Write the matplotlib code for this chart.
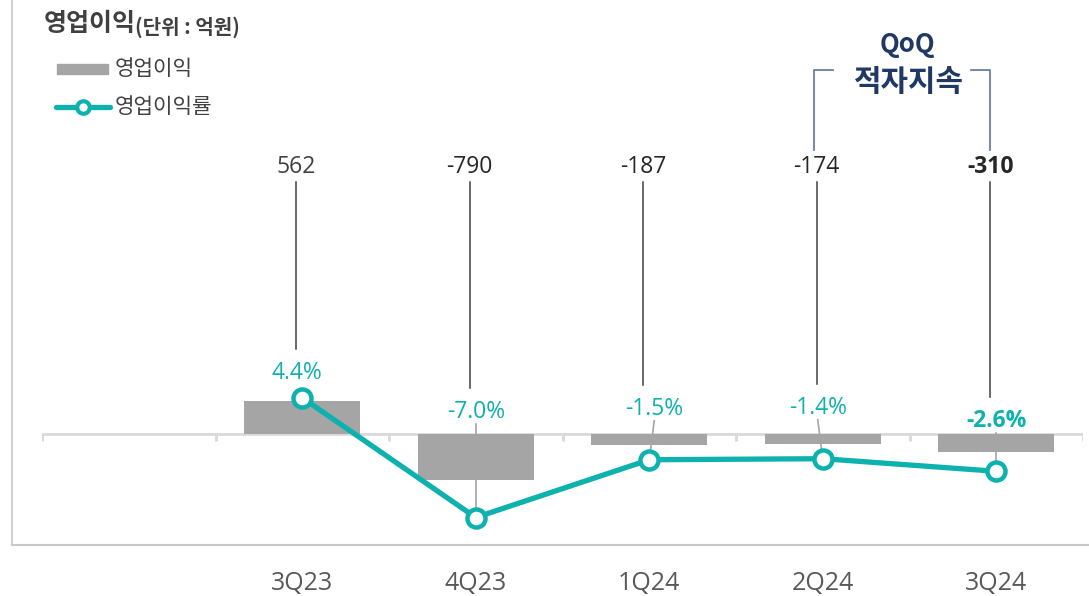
import matplotlib
matplotlib.use("Agg")
import matplotlib.pyplot as plt
from matplotlib.lines import Line2D
from matplotlib.patches import Rectangle

plt.rcParams['font.family'] = ['Noto Sans CJK KR', 'DejaVu Sans']
LATIN = ['Open Sans', 'Noto Sans CJK KR']

# data
quarters = ["3Q23", "4Q23", "1Q24", "2Q24", "3Q24"]
op_income = [562, -790, -187, -174, -310]       # 억원
op_margin = [4.4, -7.0, -1.5, -1.4, -2.6]       # %
value_labels = ["562", "-790", "-187", "-174", "-310"]
margin_labels = ["4.4%", "-7.0%", "-1.5%", "-1.4%", "-2.6%"]

# layout / style
W, H = 1089, 596
GRAY_BAR = "#a5a5a5"
TEAL = "#0db1ad"
NAVY = "#1f3864"
BRACKET = "#6c7f9c"
# offset (px) of each margin label from its marker
margin_label_off = [(-5, 25), (0, 106), (5, 51), (-5, 51), (0, 50)]
bold_last = True

fig = plt.figure(figsize=(W / 100, H / 100), dpi=100)


def fx(px):
    return px / W


def fy(py):
    return 1 - py / H


ax = fig.add_axes([fx(42), fy(545), fx(1041), (545 - 150) / H])
ax2 = ax.twinx()
for a in (ax, ax2):
    a.set_xlim(-0.5, 5.5)
    a.axis("off")
ax.set_ylim(-(545 - 434) * 17.1, (434 - 150) * 17.1)
ax2.set_ylim(-(545 - 444) / 10.5, (444 - 150) / 10.5)

xs = list(range(1, len(quarters) + 1))

# baseline with slot ticks
ax.axhline(0, color="#d9d9d9", lw=2, zorder=1)
ax.vlines([k + 0.5 for k in range(-1, 6)], -7 * 17.1, 0, color="#d9d9d9", lw=2, zorder=1)

# bars
ax.bar(xs, op_income, width=0.67, color=GRAY_BAR, zorder=3)

# line
ax2.plot(xs, op_margin, color=TEAL, lw=3.8, marker="o", ms=13,
         mfc="white", mec=TEAL, mew=3.2, zorder=5, solid_capstyle="round")

fig.canvas.draw()

for i, (x, m) in enumerate(zip(xs, op_margin)):
    last = bold_last and i == len(xs) - 1
    mx, my = ax2.transData.transform((x, m))
    dx, dy = margin_label_off[i]
    lx, ly = mx + dx, my + dy
    # margin label
    fig.text(lx / W, ly / H, margin_labels[i], color=TEAL, fontsize=16.5,
             family=LATIN, ha="center", va="center",
             fontweight="bold" if last else "normal")
    # gray leader from marker to label
    if i > 0:
        ax.add_line(Line2D([lx / W, mx / W], [(ly - 12) / H, my / H],
                           transform=fig.transFigure, color="#a6a6a6", lw=1.2, zorder=2))
    # top value label with dark leader
    tx = mx - 6
    fig.text(tx / W, fy(167), value_labels[i], color="#262626" if i else "#404040",
             fontsize=16.5, family=LATIN, ha="center", va="center",
             fontweight="bold" if last else "normal")
    fig.add_artist(Line2D([tx / W, tx / W], [fy(182), (ly + 24) / H],
                          transform=fig.transFigure, color="#404040", lw=1.1))
    # category label
    fig.text(mx / W, fy(584), quarters[i], color="#595959", fontsize=18,
             family=LATIN, ha="center", va="center")

# frame lines
fig.add_artist(Line2D([fx(12), fx(12)], [fy(0), fy(545)], color="#d0d0d0", lw=1.5))
fig.add_artist(Line2D([fx(12), fx(1089)], [fy(545), fy(545)], color="#c8c8c8", lw=1.5))

# title
fig.text(fx(44), fy(24), "영업이익", fontsize=18, fontweight="bold",
         color="#404040", va="center", ha="left")
fig.text(fx(135), fy(27), "(단위 : 억원)", fontsize=14.5, fontweight="bold",
         color="#404040", va="center", ha="left")

# legend
fig.add_artist(Rectangle((fx(57), fy(74)), fx(51), (74 - 64) / H,
                         transform=fig.transFigure, color=GRAY_BAR))
fig.text(fx(115), fy(69), "영업이익", fontsize=15.3, color="#404040", va="center")
fig.add_artist(Line2D([fx(56), fx(110)], [fy(107), fy(107)], color=TEAL, lw=3.8,
                      solid_capstyle="round"))
fig.add_artist(Line2D([fx(83)], [fy(107)], marker="o", ms=9, mfc="white",
                      mec=TEAL, mew=3, color=TEAL))
fig.text(fx(115), fy(107), "영업이익률", fontsize=15.3, color="#404040", va="center")

# QoQ bracket
fig.text(fx(907), fy(45), "QoQ", fontsize=18.5, fontweight="bold", color=NAVY,
         ha="center", va="center")
fig.text(fx(909), fy(82), "적자지속", fontsize=21.5, fontweight="bold", color=NAVY,
         ha="center", va="center")
fig.add_artist(Line2D([fx(814), fx(814), fx(833)], [fy(150), fy(70), fy(70)],
                      color=BRACKET, lw=1.3))
fig.add_artist(Line2D([fx(971), fx(990), fx(990)], [fy(70), fy(70), fy(150)],
                      color=BRACKET, lw=1.3))

fig.savefig("out.png", dpi=100)
